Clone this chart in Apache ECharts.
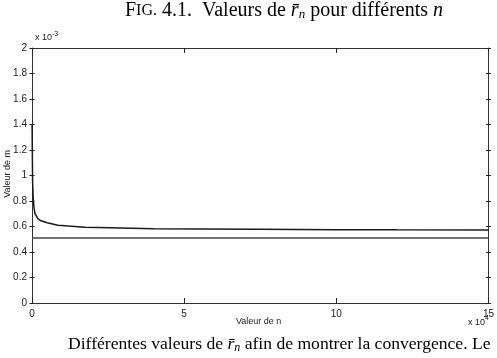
<!DOCTYPE html>
<html><head><meta charset="utf-8">
<script src="https://cdn.jsdelivr.net/npm/echarts@6/dist/echarts.min.js"></script>
<style>html,body{margin:0;padding:0;background:#fff}#c{width:497px;height:358px}</style>
</head><body><div id="c"></div>
<script>
// n in units of 1e4, value in units of 1e-3
const curveN = [0.003, 0.01, 0.02, 0.04, 0.07, 0.1, 0.2, 0.3, 0.5, 0.85, 1.2, 1.73, 2.55, 4, 5.5, 7.45, 10, 12, 15];
const curveV = [1.40, 1.20, 0.95, 0.82, 0.74, 0.70, 0.66, 0.645, 0.63, 0.61, 0.603, 0.594, 0.59, 0.583, 0.58, 0.578, 0.575, 0.574, 0.573];
const limitN = [0, 15];
const limitV = [0.51, 0.51];
const xTicks = [0, 5, 10, 15];
const yTicks = [0, 0.2, 0.4, 0.6, 0.8, 1, 1.2, 1.4, 1.6, 1.8, 2];

const W = 497, H = 358, GL = 32, GR = 6, GT = 48, GB = 55;
const GW = W - GL - GR, GH = H - GT - GB;

const chart = echarts.init(document.getElementById('c'));
const sans = 'Liberation Sans, Arial, sans-serif';
const serif = 'Liberation Serif, DejaVu Serif, serif';
// axis factory: line / ticks / labels toggles; offset used to flip tick direction into the plot
const ax = (pos, isX, o) => ({
  type: 'value', position: pos, offset: o.offset || 0,
  min: 0, max: isX ? xTicks[xTicks.length - 1] : yTicks[yTicks.length - 1],
  interval: isX ? xTicks[1] - xTicks[0] : yTicks[1] - yTicks[0],
  axisLine: {show: !!o.line, onZero: false, lineStyle: {color: '#333', width: 1}},
  axisTick: {show: !!o.tick, inside: false, length: 5, lineStyle: {color: '#222', width: 1}},
  axisLabel: {show: !!o.label, color: '#222', fontFamily: sans, fontSize: 10, margin: isX ? 6 : 5,
    formatter: v => String(Math.round(v * 10) / 10)},
  splitLine: {show: false}
});
const richTitle = {
  a: {fontFamily: serif, fontSize: 20, color: '#222'},
  b: {fontFamily: serif, fontSize: 16, color: '#222'},
  i: {fontFamily: serif, fontSize: 20, fontStyle: 'italic', color: '#222'},
  s: {fontFamily: serif, fontSize: 13, fontStyle: 'italic', color: '#222', verticalAlign: 'bottom', padding: [8, 0, 0, 0]}
};
const richCap = {
  a: {fontFamily: serif, fontSize: 17.6, color: '#222'},
  i: {fontFamily: serif, fontSize: 17.6, fontStyle: 'italic', color: '#222'},
  s: {fontFamily: serif, fontSize: 12, fontStyle: 'italic', color: '#222', verticalAlign: 'bottom', padding: [7, 0, 0, 0]}
};
chart.setOption({
  animation: false,
  backgroundColor: '#fff',
  grid: {left: GL, right: GR, top: GT, bottom: GB},
  xAxis: [
    ax('bottom', true, {line: true, label: true}),
    ax('top', true, {line: true}),
    ax('top', true, {tick: true, offset: -GH}),
    ax('bottom', true, {tick: true, offset: -GH})
  ],
  yAxis: [
    ax('left', false, {line: true, label: true}),
    ax('right', false, {line: true}),
    ax('right', false, {tick: true, offset: -GW}),
    ax('left', false, {tick: true, offset: -GW})
  ],
  graphic: [
    {type: 'text', left: 125, top: 1, style: {text: '{a|F}{b|IG.}{a| 4.1.  Valeurs de }{i|r̄}{s|n}{a| pour différents }{i|n}', rich: richTitle}},
    {type: 'text', left: 68, top: 335, style: {text: '{a|Différentes valeurs de }{i|r̄}{s|n}{a| afin de montrer la convergence. Le}', rich: richCap}},
    {type: 'text', left: 35, top: 33, style: {text: 'x 10', fontFamily: sans, fontSize: 9, fill: '#222'}},
    {type: 'text', left: 52, top: 31, style: {text: '-3', fontFamily: sans, fontSize: 7, fill: '#222'}},
    {type: 'text', left: 468, top: 318, style: {text: 'x 10', fontFamily: sans, fontSize: 9, fill: '#222'}},
    {type: 'text', left: 485, top: 315, style: {text: '4', fontFamily: sans, fontSize: 7, fill: '#222'}},
    {type: 'text', left: 236, top: 317, style: {text: 'Valeur de n', fontFamily: sans, fontSize: 9, fill: '#222'}},
    {type: 'text', left: 3, top: 150, rotation: Math.PI / 2, style: {text: 'Valeur de m', fontFamily: sans, fontSize: 9, fill: '#222'}}
  ],
  series: [
    {type: 'line', xAxisIndex: 0, yAxisIndex: 0, showSymbol: false, smooth: false,
      data: curveN.map((n, i) => [n, curveV[i]]), lineStyle: {color: '#1a1a1a', width: 1.5}},
    {type: 'line', xAxisIndex: 0, yAxisIndex: 0, showSymbol: false,
      data: limitN.map((n, i) => [n, limitV[i]]), lineStyle: {color: '#444', width: 1.5}}
  ]
});
</script></body></html>
